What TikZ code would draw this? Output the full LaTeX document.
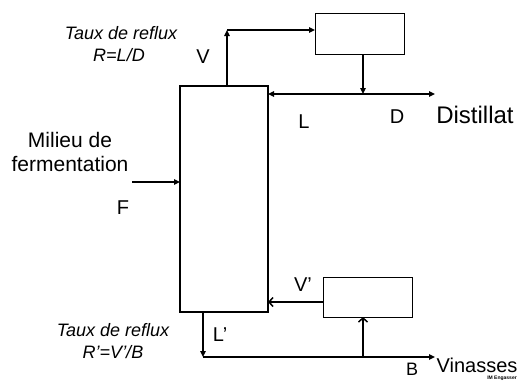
\documentclass[tikz,border=0pt]{standalone}
\usepackage{fontspec}
\setmainfont{Liberation Sans}
\usetikzlibrary{arrows.meta}
\begin{document}
\begin{tikzpicture}[x=1pt,y=-1pt,
  flow/.style={line width=1.5pt,-{Triangle[length=6pt,width=5.5pt]}},
  barb/.style={line width=1.5pt,-{Straight Barb[length=4pt,width=9pt,line width=1.5pt]}},
  colbox/.style={draw,line width=2.2pt,inner sep=0pt},
  unitbox/.style={draw,line width=1pt,inner sep=0pt},
  lbl/.style={inner sep=0pt,font=\fontsize{20}{24}\selectfont},
  note/.style={inner sep=0pt,font=\fontsize{18}{21}\selectfont\itshape,align=center},
]
\useasboundingbox (0,0) rectangle (522,381);
\fill[white] (0,0) rectangle (522,381);

% equipment
\node[colbox,minimum width=88pt,minimum height=226pt] (col) at (224,199) {};
\node[unitbox,minimum width=89pt,minimum height=41pt] (cond) at (359.5,33.5) {};
\node[unitbox,minimum width=89pt,minimum height=40pt] (reb) at (367.5,297) {};

% coordinates
\coordinate (vtop) at (227,86);
\coordinate (vcorner) at (227,30);
\coordinate (condin) at (315,30);
\coordinate (condout) at (363,54);
\coordinate (split) at (363,94);
\coordinate (colL) at (268,94);
\coordinate (distend) at (435,94);
\coordinate (fstart) at (132,182);
\coordinate (fend) at (180,182);
\coordinate (vpstart) at (323,302);
\coordinate (vpend) at (268,302);
\coordinate (lpstart) at (203,312);
\coordinate (lpcorner) at (203,357);
\coordinate (vinend) at (435,357);
\coordinate (rebjoin) at (363,357);
\coordinate (rebin) at (363,317);

% connectors
\draw[flow] (vtop) -- (vcorner);
\draw[flow] (vcorner) -- (condin);
\draw[flow] (condout) -- (split);
\draw[flow] (split) -- (colL);
\draw[flow] (split) -- (distend);
\draw[flow] (fstart) -- (fend);
\draw[barb] (vpstart) -- (vpend);
\draw[flow] (lpstart) -- (lpcorner);
\draw[flow] (lpcorner) -- (vinend);
\draw[barb] (rebjoin) -- (rebin);

% labels
\node[note] (t1) at (121,33) {Taux de reflux};
\node[note] (r1) at (119,55) {R=L/D};
\node[lbl] (lV) at (203,57) {V};
\node[lbl] (lL) at (304,122) {L};
\node[lbl] (lD) at (397,117) {D};
\node[inner sep=0pt,font=\fontsize{24}{28}\selectfont] (dist) at (475,115) {Distillat};
\node[inner sep=0pt,font=\fontsize{21}{24}\selectfont,align=center] (feed) at (70,152) {Milieu de\\fermentation};
\node[lbl] (lF) at (123,208) {F};
\node[lbl] (lVp) at (303,285) {V’};
\node[lbl] (lLp) at (220,335) {L’};
\node[note] (t2) at (113,330) {Taux de reflux};
\node[note] (r2) at (113,352) {R’=V’/B};
\node[inner sep=0pt,font=\fontsize{20}{24}\selectfont] (vin) at (477,365) {Vinasses};
\node[inner sep=0pt,font=\fontsize{18}{21}\selectfont,anchor=base] (lB) at (412,375) {B};
\node[inner sep=0pt,font=\fontsize{5}{6}\selectfont\bfseries] (sig) at (502,378) {IM Engasser};
\end{tikzpicture}
\end{document}
